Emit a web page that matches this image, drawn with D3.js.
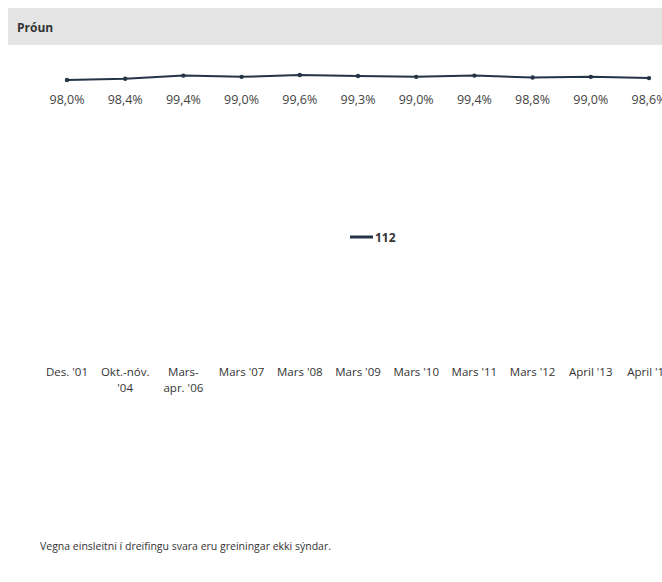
<!DOCTYPE html>
<html>
<head>
<meta charset="utf-8">
<script src="https://cdn.jsdelivr.net/npm/d3@7"></script>
<style>
html,body{margin:0;padding:0;background:#fff;overflow:hidden;}
svg{display:block;}
</style>
</head>
<body>
<svg id="chart" width="662" height="582"></svg>
<script>
const categories = [
  ["Des. '01"],
  ["Okt.-nóv.", "'04"],
  ["Mars-", "apr. '06"],
  ["Mars '07"],
  ["Mars '08"],
  ["Mars '09"],
  ["Mars '10"],
  ["Mars '11"],
  ["Mars '12"],
  ["April '13"],
  ["April '14"]
];
const values = [98.0, 98.4, 99.4, 99.0, 99.6, 99.3, 99.0, 99.4, 98.8, 99.0, 98.6];
const seriesName = "112";
const title = "Próun";
const footnote = "Vegna einsleitni í dreifingu svara eru greiningar ekki sýndar.";

const svg = d3.select("#chart");
const font = "'Open Sans', 'Liberation Sans', sans-serif";

// header band
svg.append("rect").attr("x", 8).attr("y", 8).attr("width", 662).attr("height", 37).attr("fill", "#e4e4e4");
svg.append("text").attr("x", 17).attr("y", 32).text(title)
  .attr("font-family", font).attr("font-size", 12).attr("font-weight", "bold").attr("fill", "#333");

const idx = d3.range(categories.length);
const x = d3.scalePoint().domain(idx).range([67, 649]);
const y = d3.scaleLinear().domain([0, 100]).range([386, 73.75]);

const line = d3.line().x((d, i) => x(i)).y(d => y(d));
svg.append("path").datum(values).attr("d", line)
  .attr("fill", "none").attr("stroke", "#243447").attr("stroke-width", 2);

svg.selectAll("circle.pt").data(values).enter().append("circle")
  .attr("class", "pt").attr("cx", (d, i) => x(i)).attr("cy", d => y(d)).attr("r", 2.2)
  .attr("fill", "#243447");

const fmt = v => v.toFixed(1).replace(".", ",") + "%";
svg.selectAll("text.val").data(values).enter().append("text")
  .attr("class", "val").attr("x", (d, i) => x(i)).attr("y", 103.5)
  .attr("text-anchor", "middle").attr("font-family", font).attr("font-size", 12.5)
  .attr("fill", "#444").text(fmt);

// legend
svg.append("line").attr("x1", 350).attr("x2", 373).attr("y1", 237).attr("y2", 237)
  .attr("stroke", "#243447").attr("stroke-width", 3);
svg.append("text").attr("x", 375).attr("y", 241.5).text(seriesName)
  .attr("font-family", font).attr("font-size", 12).attr("font-weight", "bold").attr("fill", "#333");

// category labels
const cat = svg.selectAll("text.cat").data(categories).enter().append("text")
  .attr("class", "cat").attr("text-anchor", "middle")
  .attr("font-family", font).attr("font-size", 11.5).attr("fill", "#333");
cat.each(function(d, i) {
  const t = d3.select(this);
  d.forEach((s, j) => {
    t.append("tspan").attr("x", x(i)).attr("y", 376 + j * 16).text(s);
  });
});

svg.append("text").attr("x", 40).attr("y", 550).text(footnote)
  .attr("font-family", font).attr("font-size", 10.5).attr("fill", "#333");
</script>
</body>
</html>
